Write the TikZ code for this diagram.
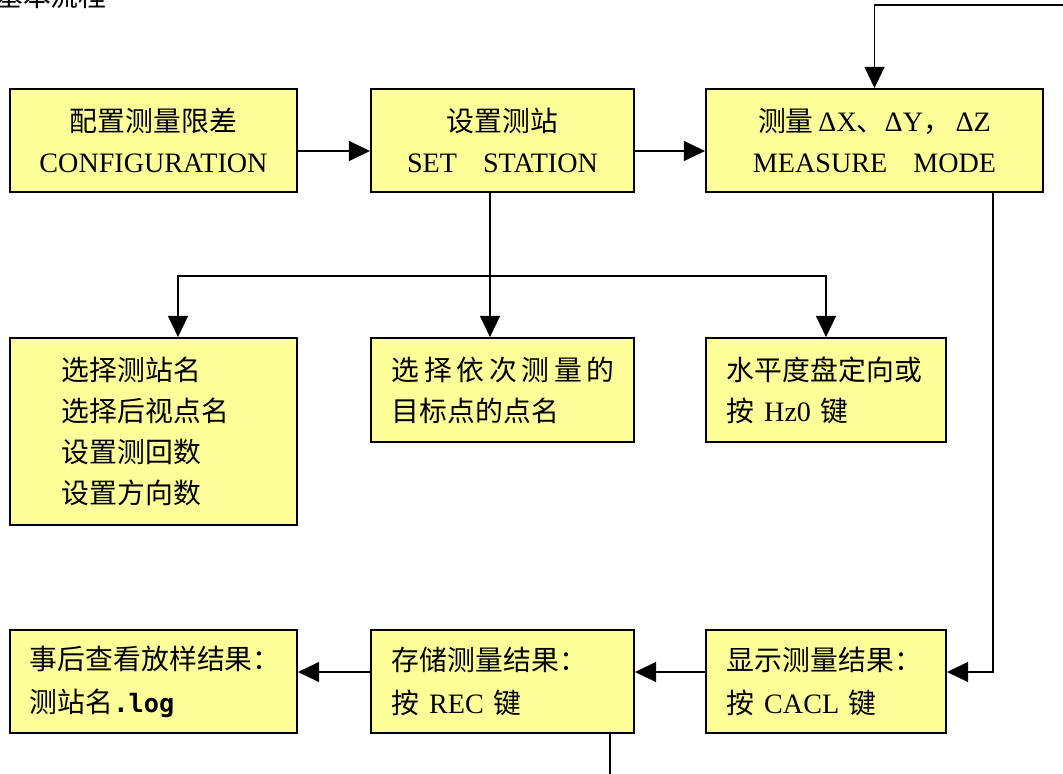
\documentclass[tikz,border=0pt]{standalone}
\usepackage{fontspec}
\setmainfont{Liberation Serif}
\newfontfamily\cjk{Noto Sans CJK SC}[Scale=0.99]
\newfontfamily\logfont{DejaVu Sans Mono}[Scale=0.9]
\usetikzlibrary{arrows.meta}
\definecolor{boxyellow}{RGB}{255,255,153}

\tikzset{
	flowbox/.style={draw, fill=boxyellow, line width=1.3pt, inner ysep=0pt, minimum height=2.575cm},
	midtext/.style={align=center, inner xsep=0pt, text width=#1, minimum width=#1},
	lefttext/.style={align=left, inner xsep=0.525cm, text width=#1},
	cjktext/.style={font=\fontsize{20}{29}\selectfont\cjk},
	arr/.style={-{Triangle[length=0.53cm,width=0.5cm]}, line width=1pt},
	ln/.style={line width=1pt}
}

\begin{document}
\begin{tikzpicture}[x=0.025cm, y=-0.025cm, font=\fontsize{20}{29}\selectfont]

	\useasboundingbox (0,0) rectangle (1063,774);
	\clip (0,0) rectangle (1063,774);

	% title, cut at the top edge
	\node[cjktext, anchor=west, inner sep=0pt] (title) at (-5,-4) {基本流程};

	% first row
	\node[flowbox, midtext=7.175cm] (config) at (153.5,140.5) {{\cjk 配置测量限差}\\CONFIGURATION};
	\node[flowbox, midtext=6.575cm] (station) at (502.5,140.5) {{\cjk 设置测站}\\SET\hspace{0.65cm}STATION};
	\node[flowbox, midtext=8.425cm] (measure) at (874.5,140.5) {{\cjk 测量}\,ΔX{\cjk 、}ΔY{\cjk ，}\,ΔZ\\MEASURE\hspace{0.65cm}MODE};

	% second row
	\node[flowbox, cjktext, lefttext=4.575cm, inner xsep=1.3cm, minimum height=4.675cm] (names) at (153.5,431.5) {选择测站名\\选择后视点名\\设置测回数\\设置方向数};
	\node[flowbox, cjktext, lefttext=5.525cm, minimum height=2.6cm] (targets) at (502.5,390) {选\,择\,依\,次\,测\,量\,的\\目标点的点名};
	\node[flowbox, lefttext=4.95cm, minimum height=2.6cm] (orient) at (826,390) {{\cjk 水平度盘定向或}\\{\cjk 按} Hz0 {\cjk 键}};

	% third row
	\node[flowbox, lefttext=6.175cm, inner xsep=0.5cm, font=\fontsize{20}{30.5}\selectfont] (review) at (153.5,681.5) {{\cjk 事后查看放样结果：}\\{\cjk 测站名}{\logfont\bfseries .log}};
	\node[flowbox, lefttext=5.525cm, font=\fontsize{20}{30.5}\selectfont] (store) at (502.5,681.5) {{\cjk 存储测量结果：}\\{\cjk 按} REC {\cjk 键}};
	\node[flowbox, lefttext=4.95cm, font=\fontsize{20}{30.5}\selectfont] (show) at (826,681.5) {{\cjk 显示测量结果：}\\{\cjk 按} CACL {\cjk 键}};

	% helper points
	\coordinate (row1) at (0,151);
	\coordinate (row3) at (0,672);
	\coordinate (split) at (490,276);
	\coordinate (splitL) at (178,276);
	\coordinate (back) at (993,672);
	\coordinate (loopin) at (1063,5);
	\coordinate (out) at (610,774);

	\draw[arr] (config.east |- row1) -- (station.west |- row1);
	\draw[arr] (station.east |- row1) -- (measure.west |- row1);

	\draw[ln] (station.south -| split) -- (split);
	\draw[arr] (split) -| (names.north -| splitL);
	\draw[arr] (split) -- (targets.north -| split);
	\draw[arr] (split) -| (orient.north);

	\draw[arr] (measure.south -| back) -- (back) -- (show.east |- back);
	\draw[arr] (show.west |- row3) -- (store.east |- row3);
	\draw[arr] (store.west |- row3) -- (review.east |- row3);

	\draw[arr] (loopin) -| (measure.north);
	\draw[ln] (store.south -| out) -- (out);

\end{tikzpicture}
\end{document}
